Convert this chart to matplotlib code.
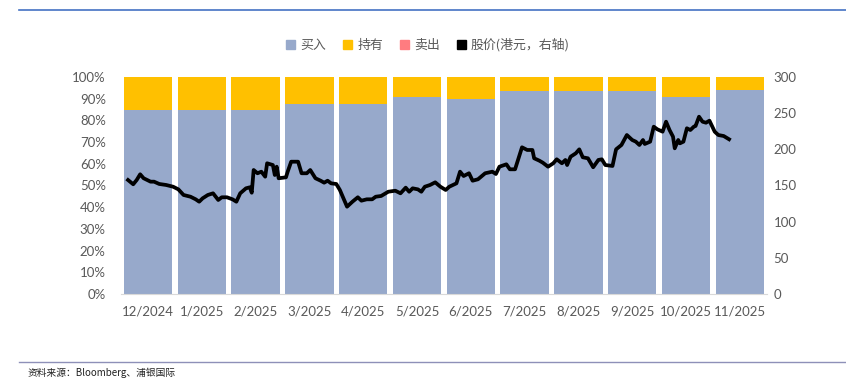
import matplotlib
matplotlib.use("Agg")
import matplotlib.pyplot as plt
from matplotlib.patches import Patch
import numpy as np
import pandas as pd

plt.rcParams['font.family'] = ['Lato', 'Noto Sans CJK SC', 'DejaVu Sans']

# monthly analyst ratings (%)
months = ['12/2024', '1/2025', '2/2025', '3/2025', '4/2025', '5/2025',
          '6/2025', '7/2025', '8/2025', '9/2025', '10/2025', '11/2025']
buy = [85, 85, 85, 87.5, 87.5, 91, 90, 93.5, 93.5, 93.5, 91, 94]
sell = [0] * 12
hold = [100 - b - s for b, s in zip(buy, sell)]

# share price (HKD)
price_dates = [
    '2024-12-05', '2024-12-08', '2024-12-10', '2024-12-12', '2024-12-14', '2024-12-16',
    '2024-12-18', '2024-12-20', '2024-12-23', '2024-12-27', '2024-12-31',
    '2025-01-03', '2025-01-06', '2025-01-10', '2025-01-13', '2025-01-15', '2025-01-17',
    '2025-01-20', '2025-01-23', '2025-01-26', '2025-01-28', '2025-01-31',
    '2025-02-03', '2025-02-05', '2025-02-07', '2025-02-10', '2025-02-12', '2025-02-13',
    '2025-02-14', '2025-02-16', '2025-02-18', '2025-02-20', '2025-02-21', '2025-02-24',
    '2025-02-25', '2025-02-26', '2025-02-27',
    '2025-03-03', '2025-03-04', '2025-03-06', '2025-03-10', '2025-03-12', '2025-03-15',
    '2025-03-17', '2025-03-20', '2025-03-23', '2025-03-25', '2025-03-27', '2025-03-29',
    '2025-04-01', '2025-04-03', '2025-04-07', '2025-04-10', '2025-04-13', '2025-04-15',
    '2025-04-18', '2025-04-21', '2025-04-23', '2025-04-26', '2025-04-30',
    '2025-05-04', '2025-05-07', '2025-05-10', '2025-05-12', '2025-05-14', '2025-05-17',
    '2025-05-19', '2025-05-21', '2025-05-24', '2025-05-27', '2025-05-30',
    '2025-06-02', '2025-06-04', '2025-06-08', '2025-06-10', '2025-06-12', '2025-06-15',
    '2025-06-17', '2025-06-20', '2025-06-24', '2025-06-28', '2025-06-30',
    '2025-07-02', '2025-07-06', '2025-07-08', '2025-07-11', '2025-07-13', '2025-07-15',
    '2025-07-18', '2025-07-21', '2025-07-22', '2025-07-25', '2025-07-27', '2025-07-30',
    '2025-08-02', '2025-08-04', '2025-08-07', '2025-08-09', '2025-08-10', '2025-08-12',
    '2025-08-15', '2025-08-17', '2025-08-19', '2025-08-22', '2025-08-25', '2025-08-28',
    '2025-08-30',
    '2025-09-01', '2025-09-05', '2025-09-07', '2025-09-10', '2025-09-13', '2025-09-16',
    '2025-09-18', '2025-09-20', '2025-09-22', '2025-09-23', '2025-09-26', '2025-09-28',
    '2025-09-30',
    '2025-10-03', '2025-10-05', '2025-10-07', '2025-10-09', '2025-10-10', '2025-10-12',
    '2025-10-13', '2025-10-15', '2025-10-17', '2025-10-19', '2025-10-21', '2025-10-22',
    '2025-10-24', '2025-10-26', '2025-10-28', '2025-10-30',
    '2025-11-02', '2025-11-04', '2025-11-07', '2025-11-10',
]
price = [
    157.6, 151.7, 157.6, 165.5, 160.0, 157.6, 155.3, 155.3, 152.1, 150.7, 148.3,
    144.7, 136.9, 134.5, 130.9, 127.6, 132.3, 136.9, 139.2, 130.0, 133.7, 133.7,
    130.9, 127.6, 139.2, 146.1, 147.5, 140.0, 171.4, 166.9, 169.1, 162.2, 180.7, 178.3,
    164.5, 176.0, 160.0,
    161.3, 169.1, 182.9, 182.9, 166.9, 166.9, 171.4, 160.0, 156.6, 153.9, 156.6, 153.0,
    152.1, 143.8, 120.7, 127.6, 133.7, 129.0, 130.9, 130.9, 134.5, 135.5, 141.4,
    142.8, 139.2, 147.0, 141.4, 146.1, 144.7, 141.4, 148.3, 150.7, 154.4, 148.3,
    143.8, 148.3, 153.0, 169.1, 163.1, 166.9, 156.6, 158.6, 166.9, 169.1, 165.9,
    176.0, 179.3, 172.4, 172.4, 187.6, 202.8, 199.1, 199.1, 187.6, 184.3, 181.5, 176.0,
    180.7, 186.2, 180.7, 185.3, 178.3, 189.8, 194.5, 200.0, 189.0, 187.6, 175.2, 185.3,
    186.2,
    178.3, 177.0, 200.0, 206.0, 219.8, 212.9, 210.6, 206.0, 212.9, 207.4, 210.6, 231.3,
    227.7,
    224.4, 238.2, 226.7, 217.5, 201.4, 212.9, 208.3, 210.6, 229.1, 226.7, 231.3, 232.3,
    245.1, 238.2, 236.8, 239.6,
    224.4, 219.8, 218.4, 213.9,
]

# place each date inside its month's bar slot
d = pd.to_datetime(pd.Series(price_dates))
month_idx = (d.dt.year - 2024) * 12 + d.dt.month - 12
price_x = month_idx - 0.5 + (d.dt.day - 1) / d.dt.days_in_month

c_buy = '#97A9CB'
c_hold = '#FFC000'
c_sell = '#FF7C80'
c_text = '#595959'

fig = plt.figure(figsize=(8.46, 3.8), dpi=100)
ax = fig.add_axes([0.1431, 0.2263, 0.7632, 0.5711])
x = np.arange(len(months))
ax.bar(x, buy, width=0.9, color=c_buy, zorder=2)
ax.bar(x, hold, bottom=buy, width=0.9, color=c_hold, zorder=2)
ax.bar(x, sell, bottom=[b + h for b, h in zip(buy, hold)], width=0.9, color=c_sell, zorder=2)
ax.set_xlim(-0.5, len(months) - 0.5)
ax.set_ylim(0, 100)
ax.set_yticks(range(0, 101, 10))
ax.set_yticklabels([f'{v}%' for v in range(0, 101, 10)])
ax.set_xticks(x)
ax.set_xticklabels(months)
ax.tick_params(length=0, labelsize=9.5, colors=c_text)
ax.tick_params(axis='x', pad=8)
ax.tick_params(axis='y', pad=11)
for s in ['top', 'right', 'left']:
    ax.spines[s].set_visible(False)
ax.spines['bottom'].set_color('#D9D9D9')

ax2 = ax.twinx()
ax2.plot(price_x, price, color='black', lw=2.7, zorder=3)
ax2.set_ylim(0, 300)
ax2.set_yticks(range(0, 301, 50))
ax2.tick_params(length=0, labelsize=9.5, colors=c_text, pad=5)
for s in ax2.spines.values():
    s.set_visible(False)

handles = [Patch(color=c_buy), Patch(color=c_hold), Patch(color=c_sell), Patch(color='black')]
labels = ['买入', '持有', '卖出', '股价(港元，右轴)']
fig.legend(handles, labels, loc='center', bbox_to_anchor=(0.506, 0.882), ncol=4,
           frameon=False, handlelength=0.7, handleheight=0.7, handletextpad=0.4,
           columnspacing=1.3, prop={'family': ['Noto Sans CJK SC'], 'size': 9.3},
           labelcolor=c_text)

# frame lines and source note
fig.add_artist(plt.Line2D([0.022, 1.0], [0.974, 0.974], color='#4472C4', lw=1.2))
fig.add_artist(plt.Line2D([0.022, 1.0], [0.047, 0.047], color='#8E90B8', lw=1.0))
fig.text(0.032, 0.018, '资料来源：Bloomberg、浦银国际', fontsize=7,
         family=['Noto Sans CJK SC'], color='#222222', va='center')

fig.savefig('out.png', dpi=100)
